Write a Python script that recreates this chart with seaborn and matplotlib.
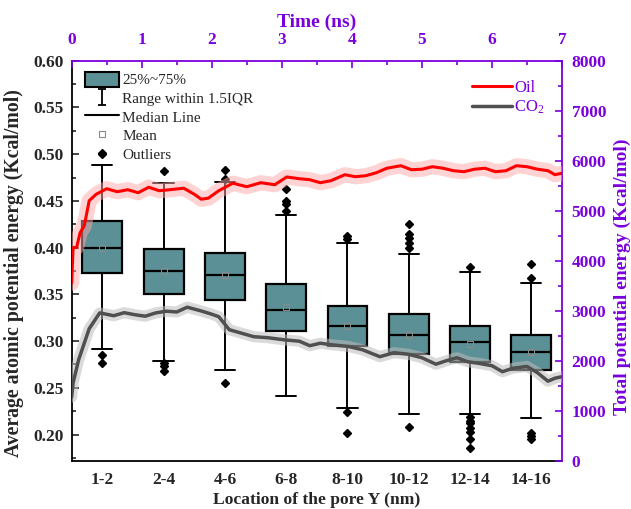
import numpy as np
import pandas as pd
import matplotlib
matplotlib.use("Agg")
import matplotlib.pyplot as plt
from matplotlib.lines import Line2D
from matplotlib.patches import Patch
from matplotlib.path import Path
from matplotlib.ticker import MultipleLocator, FormatStrFormatter
import seaborn as sns

# ---- box statistics: average atomic potential energy per pore location ----
locations = ["1-2", "2-4", "4-6", "6-8", "8-10", "10-12", "12-14", "14-16"]
whis_low = [0.291, 0.279, 0.269, 0.241, 0.2285, 0.222, 0.222, 0.218]
q1 = [0.373, 0.350, 0.3435, 0.311, 0.2945, 0.2857, 0.278, 0.269]
median = [0.400, 0.3745, 0.3705, 0.333, 0.316, 0.3067, 0.299, 0.288]
q3 = [0.428, 0.399, 0.394, 0.3606, 0.338, 0.329, 0.316, 0.306]
whis_high = [0.488, 0.469, 0.470, 0.435, 0.405, 0.393, 0.374, 0.362]
means = [0.400, 0.375, 0.371, 0.336, 0.316, 0.307, 0.297, 0.2885]
outliers = [
    [0.500, 0.285, 0.277],
    [0.482, 0.277, 0.273, 0.268],
    [0.483, 0.473, 0.255],
    [0.463, 0.450, 0.447, 0.439],
    [0.412, 0.409, 0.224, 0.202],
    [0.425, 0.415, 0.410, 0.405, 0.400, 0.208],
    [0.379, 0.219, 0.215, 0.212, 0.2075, 0.2025, 0.195, 0.186],
    [0.382, 0.368, 0.202, 0.198, 0.195],
]

# ---- total potential energy versus simulation time ----
time_oil = [0.0, 0.02, 0.07, 0.12, 0.18, 0.25, 0.35, 0.5, 0.65, 0.8, 0.95,
            1.1, 1.25, 1.4, 1.6, 1.75, 1.85, 1.95, 2.1, 2.3, 2.5, 2.7, 2.9,
            3.07, 3.25, 3.4, 3.55, 3.7, 3.9, 4.05, 4.2, 4.35, 4.5, 4.7, 4.85,
            5.0, 5.15, 5.3, 5.45, 5.6, 5.75, 5.9, 6.05, 6.2, 6.35, 6.5, 6.65,
            6.8, 6.9, 7.0]
energy_oil = [3555, 4264, 4264, 4560, 4700, 5200, 5330, 5440, 5380, 5420,
              5360, 5470, 5400, 5420, 5450, 5330, 5230, 5250, 5400, 5550,
              5480, 5560, 5520, 5675, 5640, 5620, 5560, 5600, 5720, 5680,
              5700, 5760, 5850, 5900, 5820, 5830, 5880, 5850, 5800, 5780,
              5830, 5850, 5780, 5800, 5900, 5880, 5830, 5800, 5720, 5750]
time_co2 = [0.0, 0.02, 0.1, 0.25, 0.4, 0.6, 0.75, 0.9, 1.05, 1.2, 1.35, 1.5,
            1.65, 1.85, 2.0, 2.1, 2.25, 2.4, 2.6, 2.8, 3.05, 3.25, 3.4, 3.55,
            3.7, 3.95, 4.15, 4.4, 4.6, 4.8, 5.0, 5.2, 5.35, 5.5, 5.65, 5.8,
            6.0, 6.15, 6.3, 6.5, 6.65, 6.8, 6.9, 7.0]
energy_co2 = [1275, 1555, 2022, 2640, 2956, 2900, 2960, 2920, 2890, 2956,
              2990, 2975, 3070, 2995, 2930, 2880, 2620, 2560, 2480, 2460,
              2415, 2390, 2300, 2350, 2320, 2285, 2220, 2080, 2160, 2130,
              2060, 1930, 2000, 2060, 1980, 1950, 1900, 1780, 1850, 1885,
              1760, 1590, 1650, 1680]

PURPLE = "#7A00DD"
TEAL = "#5B9096"

sns.set_style("white")
plt.rcParams["font.family"] = ["Liberation Serif", "DejaVu Serif"]
plt.rcParams["mathtext.fontset"] = "custom"
plt.rcParams["mathtext.rm"] = "Liberation Serif"
plt.rcParams["mathtext.it"] = "Liberation Serif:italic"

fig = plt.figure(figsize=(6.31, 5.09), dpi=100)
ax = fig.add_axes([0.1136, 0.0949, 0.7770, 0.7858])

# box plot of the atomic energy per location
stats = []
for i, name in enumerate(locations):
    stats.append(dict(label=name, whislo=whis_low[i], q1=q1[i], med=median[i],
                      q3=q3[i], whishi=whis_high[i], mean=means[i],
                      fliers=outliers[i]))
ax.bxp(stats, positions=range(len(locations)), widths=0.65, capwidths=0.33,
       patch_artist=True, showmeans=True,
       boxprops=dict(facecolor=TEAL, edgecolor="black", linewidth=1.6),
       medianprops=dict(color="black", linewidth=1.6),
       whiskerprops=dict(color="black", linewidth=1.4),
       capprops=dict(color="black", linewidth=1.4),
       flierprops=dict(marker="D", markerfacecolor="black",
                       markeredgecolor="black", markersize=3.6),
       meanprops=dict(marker="s", markerfacecolor="none",
                      markeredgecolor="#8a8a8a", markersize=4.2,
                      markeredgewidth=0.8))

ax.set_xlim(-0.5, len(locations) - 0.5)
ax.set_ylim(0.172, 0.60)
ax.set_xticks(range(len(locations)))
ax.set_xticklabels(locations)
ax.yaxis.set_major_locator(MultipleLocator(0.05))
ax.yaxis.set_minor_locator(MultipleLocator(0.025))
ax.yaxis.set_major_formatter(FormatStrFormatter("%.2f"))
ax.tick_params(axis="both", which="major", direction="in", length=5,
               width=1.2, labelsize=12.5)
ax.tick_params(axis="y", which="minor", direction="in", length=3, width=1.2)
ax.tick_params(axis="y", pad=6)
ax.tick_params(axis="x", pad=8)
for lab in ax.get_xticklabels() + ax.get_yticklabels():
    lab.set_fontweight("bold")
ax.set_xlabel("Location of the pore Y (nm)", fontsize=12.6, fontweight="bold",
              labelpad=3)
ax.set_ylabel("Average atomic potential energy (Kcal/mol)", fontsize=14.2,
              fontweight="bold")
ax.yaxis.set_label_coords(-0.097, 0.468)
for side in ["left", "bottom"]:
    ax.spines[side].set_linewidth(1.3)
    ax.spines[side].set_color("black")
ax.spines["top"].set_visible(False)
ax.spines["right"].set_visible(False)

# right axis: total energy, top axis: time
ax_r = ax.twinx()
ax_t = ax_r.twiny()

df_oil = pd.DataFrame({"time": time_oil, "energy": energy_oil})
df_co2 = pd.DataFrame({"time": time_co2, "energy": energy_co2})
sns.lineplot(data=df_oil, x="time", y="energy", ax=ax_t, color="#FFA8A8",
             linewidth=11, alpha=0.5, estimator=None, sort=False)
sns.lineplot(data=df_co2, x="time", y="energy", ax=ax_t, color="#BDBDBD",
             linewidth=8, alpha=0.55, estimator=None, sort=False)
sns.lineplot(data=df_oil, x="time", y="energy", ax=ax_t, color="#FF0000",
             linewidth=2.2, estimator=None, sort=False)
sns.lineplot(data=df_co2, x="time", y="energy", ax=ax_t, color="#505050",
             linewidth=2.5, estimator=None, sort=False)

ax_t.set_xlim(0, 7)
ax_r.set_ylim(0, 8000)
ax_t.set_ylim(0, 8000)
ax_t.set_ylabel("")
ax_t.xaxis.set_major_locator(MultipleLocator(1))
ax_t.xaxis.set_minor_locator(MultipleLocator(0.5))
ax_t.tick_params(axis="x", which="major", direction="in", length=5, width=1.2,
                 colors=PURPLE, labelsize=12.5, pad=9)
ax_t.tick_params(axis="x", which="minor", direction="in", length=3, width=1.2,
                 colors=PURPLE)
ax_t.tick_params(axis="y", left=False, right=False, labelleft=False,
                 labelright=False)
ax_t.set_xlabel("Time (ns)", fontsize=14, fontweight="bold", color=PURPLE,
                labelpad=4)
for lab in ax_t.get_xticklabels():
    lab.set_fontweight("bold")

ax_r.yaxis.set_major_locator(MultipleLocator(1000))
ax_r.yaxis.set_minor_locator(MultipleLocator(500))
ax_r.tick_params(axis="y", which="major", direction="in", length=5, width=1.2,
                 colors=PURPLE, labelsize=12.5, pad=7)
ax_r.tick_params(axis="y", which="minor", direction="in", length=3, width=1.2,
                 colors=PURPLE)
ax_r.set_ylabel("Total potential energy (Kcal/mol)", fontsize=14,
                fontweight="bold", color=PURPLE)
ax_r.yaxis.set_label_coords(1.106, 0.459)
for lab in ax_r.get_yticklabels():
    lab.set_fontweight("bold")

for a in (ax_r, ax_t):
    for side in ["left", "bottom", "top", "right"]:
        a.spines[side].set_visible(False)
ax_r.spines["right"].set_visible(True)
ax_r.spines["right"].set_color(PURPLE)
ax_r.spines["right"].set_linewidth(1.3)
ax_t.spines["top"].set_visible(True)
ax_t.spines["top"].set_color(PURPLE)
ax_t.spines["top"].set_linewidth(1.3)

# legend for the box elements
whisker_path = Path([(-0.5, 1), (0.5, 1), (0, 1), (0, -1), (-0.5, -1), (0.5, -1)],
                    [Path.MOVETO, Path.LINETO, Path.MOVETO, Path.LINETO,
                     Path.MOVETO, Path.LINETO])
box_handles = [
    Patch(facecolor=TEAL, edgecolor="black", linewidth=1.5),
    Line2D([], [], linestyle="none", marker=whisker_path, markersize=12,
           markeredgecolor="black", markerfacecolor="none", markeredgewidth=1.3),
    Line2D([], [], color="black", linewidth=1.5),
    Line2D([], [], linestyle="none", marker="s", markersize=4,
           markerfacecolor="none", markeredgecolor="#8a8a8a",
           markeredgewidth=0.8),
    Line2D([], [], linestyle="none", marker="D", markersize=4,
           markerfacecolor="black", markeredgecolor="black"),
]
box_labels = ["25%~75%", "Range within 1.5IQR", "Median Line", "Mean", "Outliers"]
leg1 = ax_t.legend(box_handles, box_labels, loc="upper left",
                   bbox_to_anchor=(0.027, 0.972), frameon=False, fontsize=11,
                   handlelength=2.2, handleheight=1.1, handletextpad=0.25,
                   labelspacing=0.2, borderaxespad=0.0, borderpad=0.0)
ax_t.add_artist(leg1)

line_handles = [Line2D([], [], color="#FF0000", linewidth=2.2),
                Line2D([], [], color="#505050", linewidth=2.5)]
leg2 = ax_t.legend(line_handles, ["Oil", "CO$_2$"], loc="upper left",
                   bbox_to_anchor=(0.816, 0.952), frameon=False, fontsize=12,
                   handlelength=2.4, handletextpad=0.15, labelspacing=0.15,
                   borderaxespad=0.0, borderpad=0.0)
for t in leg2.get_texts():
    t.set_color(PURPLE)

fig.savefig("out.png", dpi=100)
